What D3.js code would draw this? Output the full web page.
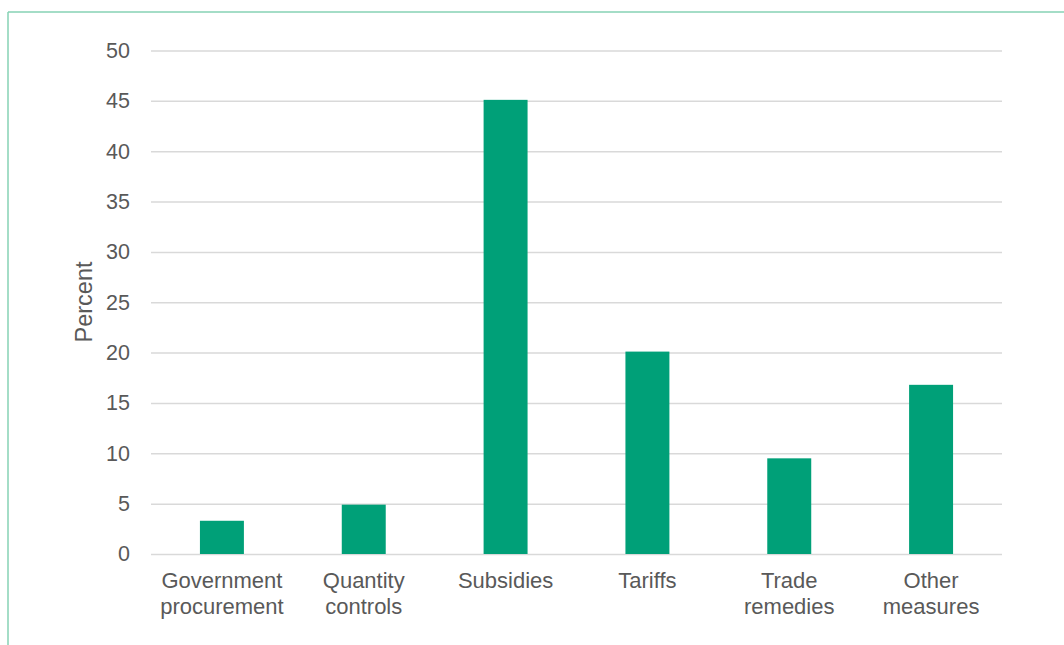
<!DOCTYPE html>
<html>
<head>
<meta charset="utf-8">
<script src="https://cdn.jsdelivr.net/npm/d3@7"></script>
<style>
  body { margin: 0; background: #fff; }
  svg { display: block; }
</style>
</head>
<body>
<svg id="chart" width="1064" height="645"></svg>
<script>
const categories = [["Government", "procurement"], ["Quantity", "controls"], ["Subsidies"], ["Tariffs"], ["Trade", "remedies"], ["Other", "measures"]];
const values = [3.3, 4.9, 45.1, 20.1, 9.5, 16.8];
const yTicks = [0, 5, 10, 15, 20, 25, 30, 35, 40, 45, 50];
const yLabel = "Percent";

const svg = d3.select("#chart");
const W = 1064, H = 645;
const m = { left: 151, right: 62, top: 50.5, bottom: 91 };
const font = "'Liberation Sans', Arial, sans-serif";

// frame
svg.append("line").attr("x1", 8).attr("x2", W).attr("y1", 12).attr("y2", 12)
  .attr("stroke", "#86d2b4").attr("stroke-width", 1.5);
svg.append("line").attr("x1", 8).attr("x2", 8).attr("y1", 12).attr("y2", H)
  .attr("stroke", "#86d2b4").attr("stroke-width", 1.5);

const x = d3.scaleBand().domain(d3.range(categories.length))
  .range([m.left, W - m.right]).paddingInner(0.69).paddingOuter(0.345);
const y = d3.scaleLinear().domain([0, 50]).range([H - m.bottom, m.top]);

// gridlines
const yAxis = d3.axisLeft(y).tickValues(yTicks).tickSize(-(W - m.right - m.left)).tickPadding(21);
const gy = svg.append("g").attr("transform", `translate(${m.left},0)`).call(yAxis);
gy.select(".domain").remove();
gy.selectAll(".tick line").attr("stroke", "#d9d9d9").attr("stroke-width", 1.5);
gy.selectAll(".tick text").attr("fill", "#595959").style("font-family", font).style("font-size", "21.5px");

// bars
svg.append("g").selectAll("rect").data(values).join("rect")
  .attr("x", (d, i) => x(i))
  .attr("width", x.bandwidth())
  .attr("y", d => y(d))
  .attr("height", d => y(0) - y(d))
  .attr("fill", "#00a078");

// x labels
const xl = svg.append("g").selectAll("text").data(categories).join("text")
  .attr("x", (d, i) => x(i) + x.bandwidth() / 2)
  .attr("y", 588)
  .attr("text-anchor", "middle")
  .attr("fill", "#595959")
  .style("font-family", font).style("font-size", "22px");
xl.selectAll("tspan").data(d => d).join("tspan")
  .attr("x", function () { return d3.select(this.parentNode).attr("x"); })
  .attr("dy", (d, i) => i === 0 ? 0 : 25.5)
  .text(d => d);

// y label
svg.append("text")
  .attr("transform", `translate(92,302) rotate(-90)`)
  .attr("text-anchor", "middle")
  .attr("fill", "#595959")
  .style("font-family", font).style("font-size", "23.5px")
  .text(yLabel);
</script>
</body>
</html>
